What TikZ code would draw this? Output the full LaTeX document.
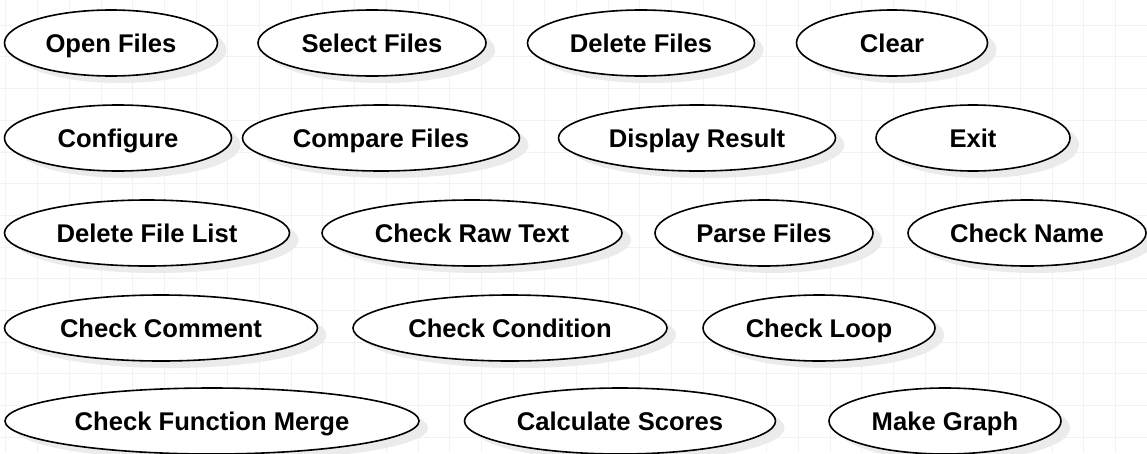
\documentclass[tikz,border=0pt]{standalone}
\usepackage{fontspec}
\setmainfont{Liberation Sans}
\usetikzlibrary{shapes.geometric, shadows}
\tikzstyle{use_case} = [
    ellipse, 
    draw=black, 
    line width=1.6pt, 
    fill=white, 
    font=\fontsize{25.6}{30}\selectfont\bfseries, 
    align=center, 
    inner sep=0pt, 
    text height=18.3pt, % caps centred in the ellipse
    text depth=0pt, 
    minimum height=66pt, % same height for every case
    drop shadow={shadow xshift=9pt, shadow yshift=-7pt, fill=black!8, opacity=1}
]
\tikzstyle{grid_line} = [
    draw=black!5, 
    line width=0.6pt
]
\begin{document}
\begin{tikzpicture}[x=1pt, y=-1pt]
\useasboundingbox (0,0) rectangle (1147,453);
\fill[white] (0,0) rectangle (1147,453);
% background grid
\foreach \i in {0,...,36} {
    \draw[grid_line] ({5.7+31.7*\i},0) -- ({5.7+31.7*\i},453);
}
\foreach \j in {1,...,15} {
    \draw[grid_line] (0,{-6.7+31.7*\j}) -- (1147,{-6.7+31.7*\j});
}
% row 1
\node [use_case, minimum width=213pt] (open_files) at (111,43) {Open Files};
\node [use_case, minimum width=228pt] (select_files) at (372,43) {Select Files};
\node [use_case, minimum width=227pt] (delete_files) at (641,43) {Delete Files};
\node [use_case, minimum width=191pt] (clear) at (892,43) {Clear};
% row 2
\node [use_case, minimum width=227pt] (configure) at (118,138) {Configure};
\node [use_case, minimum width=277pt] (compare_files) at (381,138) {Compare Files};
\node [use_case, minimum width=277pt] (display_result) at (697,138) {Display Result};
\node [use_case, minimum width=194pt] (exit) at (973,138) {Exit};
% row 3
\node [use_case, minimum width=285pt] (delete_list) at (147,233) {Delete File List};
\node [use_case, minimum width=300pt] (raw_text) at (472,233) {Check Raw Text};
\node [use_case, minimum width=218pt] (parse_files) at (764,233) {Parse Files};
\node [use_case, minimum width=238pt] (check_name) at (1027,233) {Check Name};
% row 4
\node [use_case, minimum width=313pt] (check_comment) at (161,328) {Check Comment};
\node [use_case, minimum width=314pt] (check_condition) at (510,328) {Check Condition};
\node [use_case, minimum width=232pt] (check_loop) at (819,328) {Check Loop};
% row 5
\node [use_case, minimum width=414pt] (function_merge) at (212,421) {Check Function Merge};
\node [use_case, minimum width=311pt] (calc_scores) at (620,421) {Calculate Scores};
\node [use_case, minimum width=232pt] (make_graph) at (945,421) {Make Graph};
\end{tikzpicture}
\end{document}
